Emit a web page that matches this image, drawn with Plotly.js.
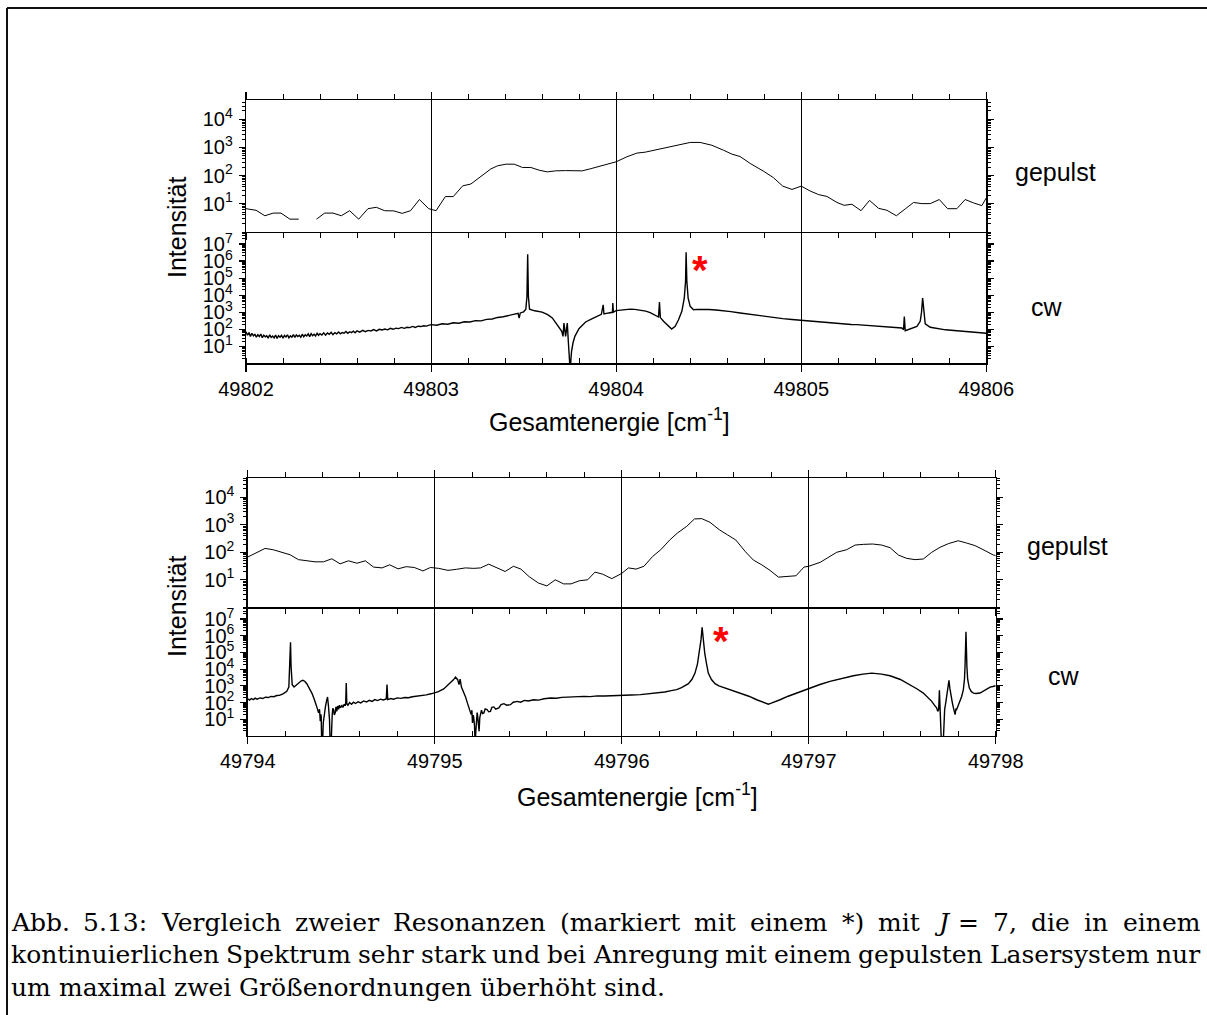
<!DOCTYPE html>
<html><head><meta charset="utf-8">
<script src="https://cdn.plot.ly/plotly-3.0.1.min.js"></script>
<style>html,body{margin:0;padding:0;background:#fff}#chart{width:1207px;height:1015px}</style>
</head><body><div id="chart"></div>
<script>
// ---------------- DATA ----------------
// Upper group, pulsed laser ("gepulst"), energy in cm^-1, intensity
const gep1E = [49802.000,49802.054,49802.102,49802.147,49802.189,49802.237,49802.285,49802.333,49802.381,49802.425,49802.470,49802.515,49802.560,49802.609,49802.659,49802.704,49802.749,49802.799,49802.844,49802.889,49802.937,49802.987,49803.027,49803.077,49803.120,49803.171,49803.215,49803.269,49803.323,49803.359,49803.404,49803.449,49803.494,49803.539,49803.584,49803.628,49803.673,49803.727,49803.772,49803.817,49803.862,49803.930,49804.000,49804.058,49804.112,49804.157,49804.220,49804.292,49804.346,49804.400,49804.454,49804.517,49804.580,49804.625,49804.670,49804.724,49804.796,49804.850,49804.900,49804.950,49805.000,49805.049,49805.094,49805.139,49805.193,49805.232,49805.274,49805.323,49805.369,49805.418,49805.463,49805.514,49805.562,49805.607,49805.652,49805.697,49805.746,49805.791,49805.841,49805.886,49805.931,49805.976,49806.000];
const gep1I = [6.6,5.8,3.7,4.6,4.6,2.8,2.8,null,2.8,4.6,4.6,3.7,5.6,2.8,6.6,7.4,5.6,5.5,4.5,5.6,14,6.6,5.6,17.8,17.8,43,50,92,172,222,254,254,194,194,155,135,147,150,147,147,175,229,309,466,630,680,850,1050,1280,1510,1510,1200,800,580,475,270,143,84,42,32,42,28,21,18,11,8.7,9.5,5.6,13,6.8,5.8,3.7,6.5,11,10,10,14,6.6,6.6,14,10.6,8.5,16];

// Upper group, continuous-wave laser ("cw")
const cw1E = [49802.000,49802.008,49802.016,49802.024,49802.032,49802.040,49802.048,49802.056,49802.064,49802.072,49802.080,49802.088,49802.096,49802.104,49802.112,49802.120,49802.128,49802.136,49802.144,49802.152,49802.160,49802.168,49802.176,49802.184,49802.192,49802.200,49802.208,49802.216,49802.224,49802.232,49802.240,49802.248,49802.256,49802.264,49802.272,49802.280,49802.288,49802.296,49802.304,49802.312,49802.320,49802.328,49802.336,49802.344,49802.352,49802.360,49802.368,49802.376,49802.384,49802.392,49802.400,49802.410,49802.420,49802.430,49802.440,49802.450,49802.460,49802.470,49802.480,49802.490,49802.500,49802.510,49802.520,49802.530,49802.540,49802.550,49802.560,49802.570,49802.580,49802.590,49802.600,49802.615,49802.630,49802.645,49802.660,49802.675,49802.690,49802.705,49802.720,49802.735,49802.750,49802.765,49802.780,49802.795,49802.810,49802.825,49802.840,49802.855,49802.870,49802.885,49802.900,49802.915,49802.930,49802.945,49802.960,49802.975,49802.990,
49803.000,49803.030,49803.060,49803.090,49803.120,49803.150,49803.180,49803.210,49803.240,49803.270,49803.300,49803.330,49803.360,49803.390,49803.420,49803.450,49803.470,49803.476,49803.482,49803.500,49803.512,49803.518,49803.522,49803.526,49803.532,49803.560,49803.600,49803.630,49803.655,49803.675,49803.691,49803.706,49803.713,49803.718,49803.727,49803.736,49803.741,49803.747,49803.752,49803.756,49803.759,49803.767,49803.777,49803.799,49803.835,49803.871,49803.895,49803.920,49803.930,49803.934,49803.960,49803.980,49803.982,49803.985,49804.000,49804.040,49804.076,49804.100,49804.130,49804.160,49804.184,49804.205,49804.229,49804.234,49804.239,49804.256,49804.283,49804.300,49804.319,49804.337,49804.355,49804.368,49804.375,49804.378,49804.382,49804.389,49804.400,49804.418,49804.440,49804.472,49804.500,49804.540,49804.580,49804.620,49804.670,49804.710,49804.760,49804.800,49804.850,49804.900,49804.950,49805.000,49805.030,49805.060,49805.090,49805.120,49805.150,49805.180,49805.210,49805.240,49805.270,49805.300,49805.330,49805.360,49805.390,49805.420,49805.450,49805.480,49805.520,49805.544,49805.553,49805.557,49805.562,49805.589,49805.625,49805.643,49805.650,49805.656,49805.662,49805.670,49805.697,49805.725,49805.751,49805.780,49805.810,49805.840,49805.870,49805.900,49805.930,49805.950,49805.970,49805.985,49806.000];
const cw1I = [70,44,63,38,58,41,50,34,47,37,52,32,45,36,41,30,47,33,40,31,46,29,42,34,44,30,43,35,47,31,41,34,48,33,46,37,44,34,51,36,47,40,53,37,55,42,51,40,58,44,55,46,62,45,60,50,66,48,63,53,69,54,64,58,73,57,71,63,76,62,81,67,86,71,85,79,95,80,98,90,103,92,113,99,116,108,127,112,130,124,145,128,150,143,160,152,175,
185,170,210,195,240,225,275,265,320,310,380,400,490,540,650,740,850,450,900,1050,1500,8000,2500000,8000,1500,1200,1000,720,460,230,117,75,38,230,38,230,24,0.3,0.3,2,5,16,38,108,265,420,560,740,2700,780,900,980,3400,1000,1230,1400,1500,1450,1320,1150,930,700,520,3900,480,290,148,103,148,360,1120,6700,63000,3300000,63000,6700,2200,1380,1450,1500,1420,1330,1230,1080,900,780,650,580,500,420,370,330,300,290,265,250,238,225,212,205,190,185,176,168,158,152,146,141,133,118,94,560,82,108,148,290,1000,6700,1000,205,130,112,98,92,86,82,76,72,69,64,62,60,58];

// Lower group, pulsed laser
const gep2E = [49794.000,49794.093,49794.138,49794.227,49794.271,49794.316,49794.360,49794.405,49794.450,49794.494,49794.539,49794.584,49794.629,49794.673,49794.718,49794.759,49794.804,49794.848,49794.891,49794.937,49794.977,49795.021,49795.071,49795.116,49795.164,49795.209,49795.245,49795.289,49795.336,49795.377,49795.421,49795.461,49795.505,49795.555,49795.600,49795.645,49795.689,49795.729,49795.773,49795.818,49795.857,49795.898,49795.947,49796.000,49796.036,49796.077,49796.119,49796.166,49796.209,49796.258,49796.298,49796.348,49796.389,49796.428,49796.472,49796.522,49796.567,49796.610,49796.660,49796.704,49796.749,49796.793,49796.838,49796.891,49796.932,49796.975,49797.000,49797.061,49797.105,49797.150,49797.203,49797.248,49797.292,49797.342,49797.390,49797.435,49797.480,49797.524,49797.569,49797.613,49797.658,49797.702,49797.747,49797.800,49797.844,49797.889,49797.943,49797.988,49798.000];
const gep2I = [67,138,123,81,54,48,45,45,58,38,49,40,49,29,27,35,25,30,28,21,28,26,22,24,27,26,27,37,26,20,31,24.5,13,7.6,6,10,7.1,7.1,9.2,10,19,16,11,17,27,24.5,31,71,124,285,500,880,1630,1670,1230,660,425,280,108,52,35,22,12.5,13,14,29,31,43,67,100,124,183,194,200,183,147,79,60,54,57,100,151,206,263,217,175,115,79,77];

// Lower group, continuous-wave laser
const cw2E = [49794.000,49794.010,49794.020,49794.030,49794.040,49794.050,49794.066,49794.080,49794.095,49794.110,49794.125,49794.140,49794.155,49794.170,49794.191,49794.209,49794.220,49794.225,49794.229,49794.232,49794.238,49794.248,49794.260,49794.271,49794.285,49794.295,49794.305,49794.316,49794.330,49794.343,49794.355,49794.364,49794.372,49794.379,49794.384,49794.388,49794.391,49794.393,49794.396,49794.400,49794.404,49794.409,49794.416,49794.422,49794.427,49794.432,49794.4375,49794.441,49794.446,49794.452,49794.455,49794.459,49794.463,49794.468,49794.472,49794.476,49794.481,49794.486,49794.491,49794.496,49794.504,49794.510,49794.516,49794.521,49794.524,49794.527,49794.530,49794.536,49794.545,49794.555,49794.566,49794.577,49794.590,49794.605,49794.620,49794.635,49794.650,49794.665,49794.680,49794.695,49794.710,49794.725,49794.741,49794.745,49794.749,49794.765,49794.780,49794.800,49794.820,49794.840,49794.860,49794.880,49794.905,49794.930,49794.955,49794.980,49795.000,49795.020,49795.048,49795.066,49795.084,49795.100,49795.111,49795.118,49795.123,49795.130,49795.136,49795.143,49795.155,49795.164,49795.173,49795.182,49795.188,49795.195,49795.199,49795.202,49795.206,49795.209,49795.213,49795.216,49795.220,49795.223,49795.227,49795.230,49795.234,49795.2375,49795.241,49795.245,49795.250,49795.256,49795.263,49795.270,49795.280,49795.289,49795.298,49795.306,49795.316,49795.326,49795.343,49795.355,49795.370,49795.385,49795.405,49795.420,49795.441,49795.460,49795.480,49795.500,49795.530,49795.555,49795.585,49795.620,49795.650,49795.680,49795.709,49795.740,49795.770,49795.798,49795.831,49795.870,49795.910,49795.950,49796.000,49796.050,49796.100,49796.150,49796.187,49796.230,49796.265,49796.294,49796.320,49796.340,49796.357,49796.375,49796.392,49796.405,49796.415,49796.424,49796.430,49796.435,49796.444,49796.454,49796.463,49796.480,49796.499,49796.520,49796.544,49796.590,49796.633,49796.680,49796.722,49796.750,49796.770,49796.784,49796.800,49796.820,49796.847,49796.890,49796.936,49797.000,49797.060,49797.114,49797.180,49797.239,49797.290,49797.337,49797.390,49797.435,49797.490,49797.542,49797.580,49797.613,49797.640,49797.658,49797.672,49797.684,49797.690,49797.695,49797.699,49797.703,49797.706,49797.710,49797.719,49797.723,49797.727,49797.733,49797.738,49797.744,49797.750,49797.755,49797.761,49797.768,49797.774,49797.779,49797.783,49797.787,49797.791,49797.800,49797.809,49797.818,49797.827,49797.833,49797.836,49797.841,49797.846,49797.850,49797.859,49797.870,49797.881,49797.895,49797.916,49797.940,49797.955,49797.970,49797.985,49798.000];
const cw2I = [170,140,175,150,185,160,190,175,210,200,235,225,265,270,340,470,850,14500,410000,14500,1180,850,1100,1480,1950,2130,1900,1350,750,370,170,94,45,24,40,7.6,20,15,0.3,0.3,6,19,60,130,214,60,9.5,0.3,0.3,19,45,38,18,24,55,30,62,40,70,48,66,52,80,65,82,1480,86,70,100,80,105,88,112,95,125,108,135,118,150,132,160,142,163,1180,150,175,160,190,178,200,195,222,235,265,290,335,370,450,650,1000,1480,2300,3300,2900,2340,1180,2560,850,420,235,110,48,30,19,35,6,18,12,4,0.3,2,6,25,15,4,1.9,12,19,35,22,24,42,38,28,30,52,55,40,48,75,86,70,75,105,118,105,135,125,148,140,170,186,180,205,214,205,230,235,228,250,245,262,270,285,300,335,370,430,520,590,780,1000,1350,2400,5800,20000,91000,560000,3200000,560000,91000,20000,5800,2400,1350,1000,810,560,370,240,148,110,88,80,92,118,148,240,370,740,1200,1860,2900,4000,5000,5800,5000,4000,2400,1180,650,370,200,118,70,48,30,38,540,19,3,0.3,0.3,5,38,100,235,700,2130,700,235,100,48,28,19,40,38,70,118,230,590,2500,14500,1700000,14500,2500,740,450,370,350,370,520,700,850,920,1020];

// Tick labels
const gepTickVals = [10, 100, 1000, 10000];
const gepTickText = ['10<sup>1</sup>','10<sup>2</sup>','10<sup>3</sup>','10<sup>4</sup>'];
const cwTickVals = [10, 100, 1000, 1e4, 1e5, 1e6, 1e7];
const cwTickText = ['10<sup>1</sup>','10<sup>2</sup>','10<sup>3</sup>','10<sup>4</sup>','10<sup>5</sup>','10<sup>6</sup>','10<sup>7</sup>'];
const range1 = [49802, 49806];
const range2 = [49794, 49798];

// Texts
const labelGep = 'gepulst', labelCw = 'cw', labelY = 'Intensität', labelX = 'Gesamtenergie [cm<sup>-1</sup>]';
const captionLines = [
  'Abb. 5.13: Vergleich zweier Resonanzen (markiert mit einem *) mit J = 7, die in einem',
  'kontinuierlichen Spektrum sehr stark und bei Anregung mit einem gepulsten Lasersystem nur',
  'um maximal zwei Größenordnungen überhöht sind.'
];

// ---------------- LAYOUT ----------------
const W = 1207, H = 1015;
const px = x => x / W, py = y => 1 - y / H;
const SANS = '"Liberation Sans", Arial, sans-serif';
const SERIF = 'DejaVu Serif';

function minorLog(maxExp) { const v = []; for (let e = 0; e <= maxExp; e++) for (let m = 2; m <= 9; m++) v.push(m * Math.pow(10, e)); return v; }
const lineCommon = {showline: true, linecolor: '#000', linewidth: 1.3, tickcolor: '#000', tickwidth: 1.1, zeroline: false, fixedrange: true};

function gepX(dom, rng, anchor) {
  return Object.assign({}, lineCommon, {domain: dom, range: rng, anchor: anchor, side: 'top', dtick: 1, tick0: rng[0],
    ticks: 'outside', ticklen: 7, showticklabels: false, mirror: 'allticks', showgrid: true, gridcolor: '#000', gridwidth: 1,
    minor: {dtick: 0.2, tick0: rng[0], ticks: 'outside', ticklen: 5, tickcolor: '#000', tickwidth: 1, showgrid: false}});
}
function cwX(dom, rng, anchor) {
  return Object.assign({}, lineCommon, {domain: dom, range: rng, anchor: anchor, side: 'bottom', dtick: 1, tick0: rng[0], tickformat: 'd',
    ticks: 'outside', ticklen: 7, showticklabels: true, tickfont: {size: 20, family: SANS, color: '#000'}, ticklabelstandoff: 0,
    showgrid: true, gridcolor: '#000', gridwidth: 1,
    minor: {dtick: 0.2, tick0: rng[0], ticks: 'inside', ticklen: 5, tickcolor: '#000', tickwidth: 1, showgrid: false}});
}
function logY(dom, rng, anchor, vals, text, maxExp) {
  return Object.assign({}, lineCommon, {domain: dom, type: 'log', range: rng, anchor: anchor, tickmode: 'array', tickvals: vals, ticktext: text,
    ticks: 'outside', ticklen: 6, mirror: 'allticks', showgrid: false, tickfont: {size: 20, family: SANS, color: '#000'}, ticklabelstandoff: 2,
    minor: {tickmode: 'array', tickvals: minorLog(maxExp), ticks: 'outside', ticklen: 3, tickcolor: '#000', tickwidth: 1, showgrid: false}});
}

const xDom1 = [px(246), px(986.3)], xDom2 = [px(247.7), px(995.7)];
const layout = {
  width: W, height: H, margin: {l: 0, r: 0, t: 0, b: 0}, paper_bgcolor: '#fff', plot_bgcolor: 'rgba(0,0,0,0)',
  showlegend: false, font: {family: SANS, color: '#000', size: 20},
  xaxis: gepX(xDom1, range1, 'y'),
  yaxis: logY([py(231.7), py(100.3)], [0, 4.68], 'x', gepTickVals, gepTickText, 4),
  xaxis2: cwX(xDom1, range1, 'y2'),
  yaxis2: logY([py(363.3), py(231.7)], [0, 7.72], 'x2', cwTickVals, cwTickText, 7),
  xaxis3: gepX(xDom2, range2, 'y3'),
  yaxis3: logY([py(607.3), py(478)], [0, 4.70], 'x3', gepTickVals, gepTickText, 4),
  xaxis4: cwX(xDom2, range2, 'y4'),
  yaxis4: logY([py(736), py(607.3)], [0, 7.70], 'x4', cwTickVals, cwTickText, 7),
  shapes: [
    {type: 'line', xref: 'paper', yref: 'paper', x0: px(7), x1: px(1210), y0: py(8), y1: py(8), line: {color: '#111', width: 2}},
    {type: 'line', xref: 'paper', yref: 'paper', x0: px(7), x1: px(7), y0: py(8), y1: py(1020), line: {color: '#111', width: 2}}
  ],
  annotations: []
};

const A = layout.annotations;
function lab(text, x, y, opts) {
  A.push(Object.assign({text: text, xref: 'paper', yref: 'paper', x: px(x), y: py(y), showarrow: false,
    xanchor: 'left', yanchor: 'middle', font: {family: SANS, size: 25, color: '#000'}}, opts || {}));
}
lab(labelGep, 1013, 172);
lab(labelCw, 1029, 307);
lab(labelGep, 1025, 546);
lab(labelCw, 1046, 676);
lab(labelY, 177, 227, {xanchor: 'center', textangle: -90});
lab(labelY, 177, 606, {xanchor: 'center', textangle: -90});
lab(labelX, 609, 420, {xanchor: 'center'});
lab(labelX, 637, 795, {xanchor: 'center'});
// red asterisks marking the resonances
lab('<b>*</b>', 700, 270, {xanchor: 'center', font: {family: SANS, size: 40, color: '#ff0000'}});
lab('<b>*</b>', 721, 641, {xanchor: 'center', font: {family: SANS, size: 40, color: '#ff0000'}});

// Caption, justified word by word
const CAP_SIZE = 25;
const ctx = document.createElement('canvas').getContext('2d');
function wordWidth(w, italic) { ctx.font = (italic ? 'italic ' : '') + CAP_SIZE + 'px "' + SERIF + '"'; return ctx.measureText(w).width; }
const capLeft = 11, capRight = 1200, capY = [922, 954, 987];
captionLines.forEach((line, li) => {
  const words = line.split(' ');
  const widths = words.map(w => wordWidth(w, w === 'J'));
  const total = widths.reduce((a, b) => a + b, 0);
  const justify = li < captionLines.length - 1;
  const gap = justify ? (capRight - capLeft - total) / (words.length - 1) : wordWidth(' ', false);
  let x = capLeft;
  words.forEach((w, i) => {
    A.push({text: w === 'J' ? '<i>J</i>' : w, xref: 'paper', yref: 'paper', x: px(x - 1), y: py(capY[li]), showarrow: false,
      xanchor: 'left', yanchor: 'middle', borderpad: 0, font: {family: SERIF, size: CAP_SIZE, color: '#000'}});
    x += widths[i] + gap;
  });
});

const lineStyle = w => ({color: '#000', width: w});
const data = [
  {x: gep1E, y: gep1I, xaxis: 'x', yaxis: 'y', type: 'scatter', mode: 'lines', line: lineStyle(1), connectgaps: false, hoverinfo: 'skip'},
  {x: cw1E, y: cw1I, xaxis: 'x2', yaxis: 'y2', type: 'scatter', mode: 'lines', line: lineStyle(1.4), hoverinfo: 'skip'},
  {x: gep2E, y: gep2I, xaxis: 'x3', yaxis: 'y3', type: 'scatter', mode: 'lines', line: lineStyle(1), hoverinfo: 'skip'},
  {x: cw2E, y: cw2I, xaxis: 'x4', yaxis: 'y4', type: 'scatter', mode: 'lines', line: lineStyle(1.4), hoverinfo: 'skip'}
];

Plotly.newPlot('chart', data, layout, {staticPlot: true, displayModeBar: false});
</script></body></html>
